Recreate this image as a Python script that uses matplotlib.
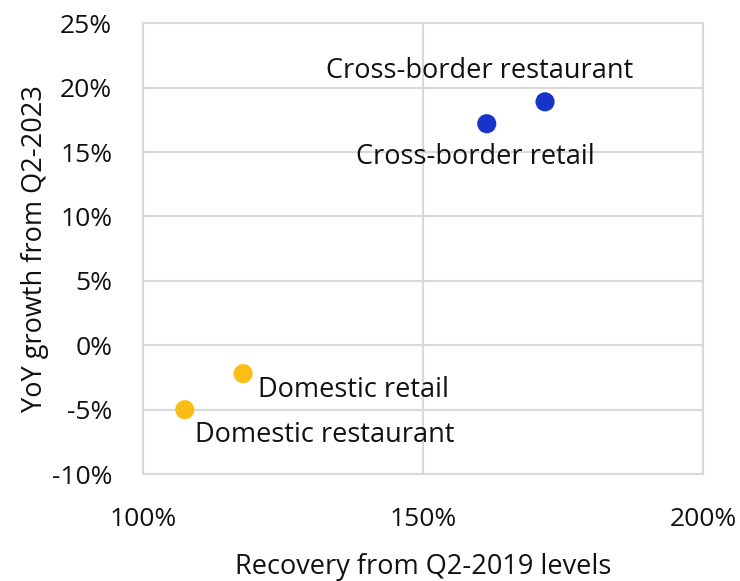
import matplotlib.pyplot as plt
from matplotlib.ticker import FuncFormatter

plt.rcParams['font.family'] = ['Open Sans', 'DejaVu Sans']

# data
labels = ["Cross-border restaurant", "Cross-border retail", "Domestic retail", "Domestic restaurant"]
recovery = [171.8, 161.4, 117.9, 107.5]      # % of Q2-2019 levels
yoy_growth = [18.9, 17.2, -2.2, -5.0]         # % YoY from Q2-2023
colors = ["#1634C9", "#1634C9", "#FBBE16", "#FBBE16"]

# label placement (offset in points, alignment)
offsets = [(-47, 12, 'center', 'bottom'), (-8, -14, 'center', 'top'),
           (11, -2, 'left', 'top'), (7, -8, 'left', 'top')]

fs = 19.5

fig = plt.figure(figsize=(7.4, 5.81), dpi=100)
ax = fig.add_axes([0.193, 0.184, 0.757, 0.776])

ax.scatter(recovery, yoy_growth, s=190, c=colors, zorder=3, linewidths=0)

for lab, x, y, (dx, dy, ha, va) in zip(labels, recovery, yoy_growth, offsets):
    ax.annotate(lab, (x, y), xytext=(dx, dy), textcoords='offset points',
                ha=ha, va=va, fontsize=fs, color='#111111')

ax.set_xlim(100, 200)
ax.set_ylim(-10, 25)
ax.set_xticks([100, 150, 200])
ax.set_yticks(range(-10, 26, 5))
ax.xaxis.set_major_formatter(FuncFormatter(lambda v, p: f"{v:.0f}%"))
ax.yaxis.set_major_formatter(FuncFormatter(lambda v, p: f"{v:.0f}%"))
ax.tick_params(length=0, labelsize=19, colors='#111111')
ax.tick_params(axis='x', pad=24)
ax.tick_params(axis='y', pad=22)

ax.grid(True, color='#D9D9D9', linewidth=1.5, zorder=0)
for s in ax.spines.values():
    s.set_color('#D9D9D9')
    s.set_linewidth(1.5)

ax.set_xlabel("Recovery from Q2-2019 levels", fontsize=fs, color='#111111', labelpad=15)
ax.set_ylabel("YoY growth from Q2-2023", fontsize=fs, color='#111111', labelpad=2)

fig.savefig("out.png", dpi=100)
